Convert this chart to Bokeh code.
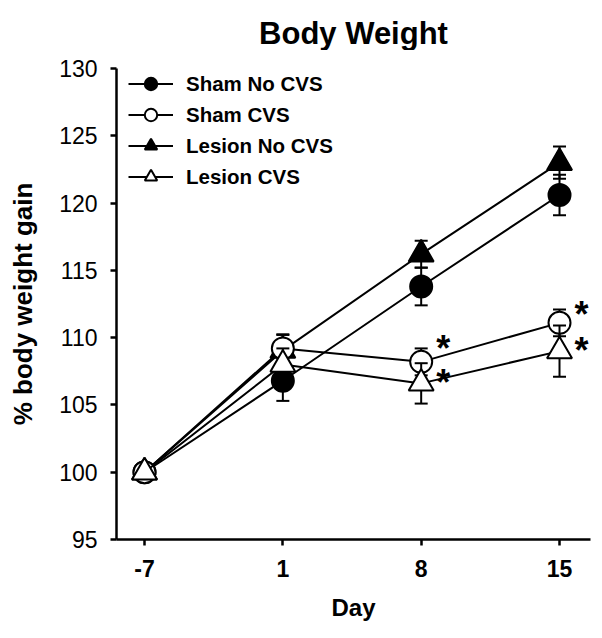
from bokeh.plotting import figure
from bokeh.layouts import column
from bokeh.models import Range1d, FixedTicker, Legend, LegendItem, Label
from bokeh.core.properties import value
from bokeh.embed import file_html
from bokeh.resources import INLINE

days = ["-7", "1", "8", "15"]

sham_no_cvs = [100.0, 106.8, 113.8, 120.6]
sham_no_cvs_err = [0.0, 1.5, 1.4, 1.5]

sham_cvs = [100.0, 109.2, 108.2, 111.1]
sham_cvs_err = [0.0, 1.0, 1.0, 1.0]

lesion_no_cvs = [100.0, 109.05, 116.2, 123.0]
lesion_no_cvs_err = [0.0, 1.2, 1.0, 1.2]

lesion_cvs = [100.0, 108.0, 106.6, 109.0]
lesion_cvs_err = [0.0, 1.2, 1.5, 1.9]

star_day = ["8", "8", "15", "15"]
star_y = [109.9, 107.4, 112.5, 109.8]

y_ticks = [95, 100, 105, 110, 115, 120, 125, 130]

FONT = "Liberation Sans"

xi = list(range(len(days)))
pos = {d: i for i, d in enumerate(days)}

W, H = 602, 638
TITLE_H = 50
LEFT, RIGHT, TOP, BOTTOM = 116, 12, 18, 99
FRAME_W = W - LEFT - RIGHT

# ---- title strip ----
t = figure(width=W, height=TITLE_H, x_range=Range1d(0, 1), y_range=Range1d(0, 1),
           output_backend="svg", toolbar_location=None,
           x_axis_location=None, y_axis_location=None,
           min_border_left=LEFT, min_border_right=RIGHT, min_border_top=0, min_border_bottom=0)
t.outline_line_color = None
t.xgrid.visible = False
t.ygrid.visible = False
t.add_layout(Label(x=FRAME_W / 2, y=TITLE_H - 33, x_units="screen", y_units="screen",
                   text="Body Weight", text_font=FONT, text_font_size="31px", text_font_style="bold",
                   text_align="center", text_baseline="alphabetic", text_color="black"))

# ---- main plot ----
p = figure(width=W, height=H - TITLE_H, x_range=Range1d(-0.2025, 3.224),
           y_range=Range1d(y_ticks[0], y_ticks[-1]),
           output_backend="svg", toolbar_location=None,
           min_border_left=LEFT, min_border_right=RIGHT, min_border_top=TOP, min_border_bottom=BOTTOM)
p.outline_line_color = None
p.xgrid.visible = False
p.ygrid.visible = False
p.background_fill_color = "white"
p.border_fill_color = "white"

for ax in (p.xaxis[0], p.yaxis[0]):
    ax.axis_line_width = 2.5
    ax.axis_line_color = "black"
    ax.major_tick_line_width = 2.5
    ax.major_tick_line_color = "black"
    ax.major_tick_in = 0
    ax.major_tick_out = 6
    ax.minor_tick_line_color = None
    ax.major_label_text_font = FONT
    ax.major_label_text_color = "black"
    ax.axis_label_text_font = FONT
    ax.axis_label_text_font_style = "bold"
    ax.axis_label_text_color = "black"

p.xaxis.ticker = FixedTicker(ticks=xi)
p.xaxis.major_label_overrides = {i: d for i, d in enumerate(days)}
p.xaxis.major_label_text_font_size = "23px"
p.xaxis.major_label_text_font_style = "bold"
p.xaxis.major_label_standoff = 14
p.xaxis.axis_label = "Day"
p.xaxis.axis_label_text_font_size = "24px"
p.xaxis.axis_label_standoff = 14

p.yaxis.ticker = FixedTicker(ticks=y_ticks)
p.yaxis.major_label_text_font_size = "23px"
p.yaxis.major_label_standoff = 13
p.yaxis.axis_label = "% body weight gain"
p.yaxis.axis_label_text_font_size = "26px"
p.yaxis.axis_label_standoff = 18

series = {
    "Sham No CVS": (sham_no_cvs, sham_no_cvs_err, "circle", "black", 22),
    "Sham CVS": (sham_cvs, sham_cvs_err, "circle", "white", 22),
    "Lesion No CVS": (lesion_no_cvs, lesion_no_cvs_err, "triangle", "black", 25),
    "Lesion CVS": (lesion_cvs, lesion_cvs_err, "triangle", "white", 25),
}
legend_order = ["Sham No CVS", "Sham CVS", "Lesion No CVS", "Lesion CVS"]
draw_order = ["Sham No CVS", "Lesion No CVS", "Sham CVS", "Lesion CVS"]

rends = {}
for name in draw_order:
    ys, errs, marker, fill, size = series[name]
    lr = p.line(xi, ys, line_color="black", line_width=2)
    ex = [x for x, e in zip(xi, errs) if e > 0]
    eu = [y + e for y, e in zip(ys, errs) if e > 0]
    el = [y - e for y, e in zip(ys, errs) if e > 0]
    p.segment(x0=ex, y0=el, x1=ex, y1=eu, line_color="black", line_width=2)
    p.scatter(x=ex + ex, y=eu + el, marker="dash", size=13, line_color="black", line_width=2)
    mr = p.scatter(xi, ys, marker=marker, size=size, fill_color=fill, line_color="black", line_width=2)
    rends[name] = [lr, mr]

items = [LegendItem(label=name, renderers=rends[name]) for name in legend_order]

p.text(x=[pos[d] for d in star_day], y=star_y, text=["*"] * len(star_y),
       x_offset=22, y_offset=10, text_font=value(FONT), text_font_style="bold",
       text_font_size="36px", text_align="center", text_baseline="middle", text_color="black")

legend = Legend(items=items, location=(12, 347))
legend.border_line_color = None
legend.background_fill_alpha = 0
legend.padding = 0
legend.margin = 0
legend.spacing = 0
legend.glyph_width = 45
legend.glyph_height = 31
legend.label_height = 31
legend.label_standoff = 13
legend.label_text_font = FONT
legend.label_text_font_style = "bold"
legend.label_text_font_size = "20.5px"
legend.label_text_color = "black"
p.add_layout(legend)

layout = column(t, p, spacing=0)
open("out.html", "w").write(file_html(layout, INLINE))
